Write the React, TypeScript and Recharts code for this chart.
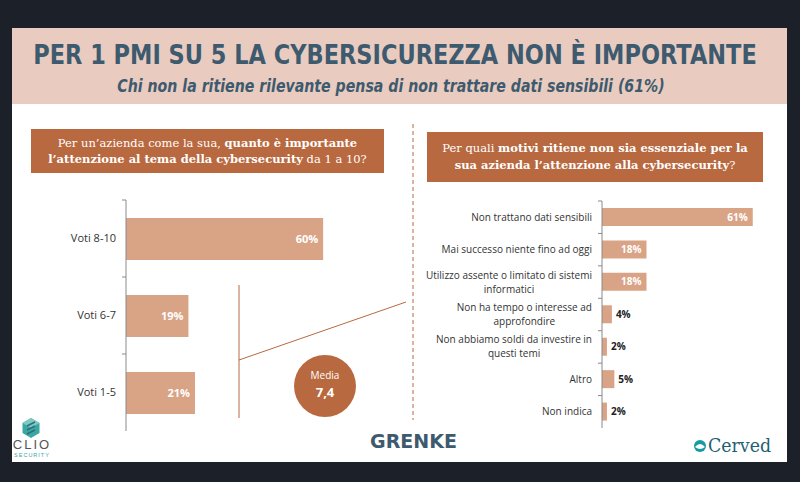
import { Bar, BarChart, LabelList, XAxis, YAxis } from "recharts";

const votes = ["Voti 8-10", "Voti 6-7", "Voti 1-5"];
const voteShares = [60, 19, 21];

const reasons = [
  "Non trattano dati sensibili",
  "Mai successo niente fino ad oggi",
  "Utilizzo assente o limitato di sistemi\ninformatici",
  "Non ha tempo o interesse ad\napprofondire",
  "Non abbiamo soldi da investire in\nquesti temi",
  "Altro",
  "Non indica"
];
const reasonShares = [61, 18, 18, 4, 2, 5, 2];

const BAR = "#d9a386";
const BROWN = "#b8693f";
const SLATE = "#3e5a6f";
const LABEL_FONT = "'Open Sans', 'Noto Sans', sans-serif";
const HEAD_FONT = "'DejaVu Sans', sans-serif";

const voteData = votes.map((name, i) => ({ name, value: voteShares[i] }));
const reasonData = reasons.map((name, i) => ({ name, value: reasonShares[i] }));

const ctx = typeof document !== "undefined" ? document.createElement("canvas").getContext("2d") : null;
function textWidth(text: string, font: string) {
  if (!ctx) return text.length * 5;
  ctx.font = font;
  return ctx.measureText(text).width;
}

// squeezes a heading horizontally to the width it has in the picture
function FitText({ text, cx, y, width, size, weight, italic }: any) {
  const font = `${italic ? "italic " : ""}${weight} ${size}px ${HEAD_FONT}`;
  const sx = width / textWidth(text, font);
  return (
    <text
      transform={`translate(${cx} ${y}) scale(${sx} 1)`}
      textAnchor="middle"
      fontFamily={HEAD_FONT}
      fontWeight={weight}
      fontStyle={italic ? "italic" : "normal"}
      fontSize={size}
      fill={SLATE}
    >
      {text}
    </text>
  );
}

// category label, lines centred on each other, block right-aligned to the axis
function CategoryTick({ x, y, payload, fontSize, lineHeight }: any) {
  const lines: string[] = String(payload.value).split("\n");
  const off = payload.offset ?? 0;
  const w = Math.max(...lines.map((l) => textWidth(l, `${fontSize}px ${LABEL_FONT}`)));
  const cx = x - 10 - w / 2;
  const y0 = y - ((lines.length - 1) * lineHeight) / 2;
  return (
    <g>
      <line x1={x - 4} x2={x} y1={y - off} y2={y - off} stroke="#8a8a8a" />
      <text textAnchor="middle" fontFamily={LABEL_FONT} fontSize={fontSize} fill="#333">
        {lines.map((l, i) => (
          <tspan key={i} x={cx} y={y0 + i * lineHeight} dy="0.35em">
            {l}
          </tspan>
        ))}
      </text>
    </g>
  );
}

function ValueLabel({ x, y, width, height, value, fontSize, threshold }: any) {
  const inside = value >= threshold;
  return (
    <text
      x={inside ? x + width - 5 : x + width + 4}
      y={y + height / 2}
      dy="0.35em"
      textAnchor={inside ? "end" : "start"}
      fontFamily={LABEL_FONT}
      fontWeight={700}
      fontSize={fontSize}
      fill={inside ? "#fff" : "#222"}
    >
      {value}%
    </text>
  );
}

function Logos() {
  return (
    <g>
      <g transform="translate(31 428)">
        <polygon points="0,-10 8.5,-5 8.5,5 0,10 -8.5,5 -8.5,-5" fill="#3aa7a3" />
        <polygon points="0,-10 8.5,-5 0,0 -8.5,-5" fill="#7fc9c2" />
        <path d="M-4,-2 L4,-6 M-4,2 L4,-2 M-4,6 L4,2" stroke="#2f6f7c" strokeWidth={1.6} />
      </g>
      <text x={32} y={449} textAnchor="middle" fontFamily="'Liberation Sans', sans-serif" fontSize={13} fill="#555" letterSpacing={2}>
        CLIO
      </text>
      <text x={32} y={457} textAnchor="middle" fontFamily="'Liberation Sans', sans-serif" fontSize={5.5} fill="#3aa7a3" letterSpacing={1}>
        SECURITY
      </text>
      <text x={370} y={448} textLength={87} lengthAdjust="spacingAndGlyphs" fontFamily="'DejaVu Sans', sans-serif" fontWeight={700} fontSize={19} fill={SLATE}>
        GRENKE
      </text>
      <circle cx={700} cy={446} r={6} fill="#139aa3" />
      <path d="M695,447 Q700,441 705,447 Q700,451 695,447 Z" fill="#fff" />
      <text x={708} y={452} textLength={63} lengthAdjust="spacingAndGlyphs" fontFamily="'DejaVu Serif', serif" fontSize={18} fill="#1f5f73">
        Cerved
      </text>
    </g>
  );
}

export default function App() {
  return (
    <div style={{ position: "absolute", left: 0, top: 0, width: 800, height: 482, background: "#1b2029", overflow: "hidden" }}>
      <div style={{ position: "absolute", left: 12, top: 28, width: 775, height: 434, background: "#fff" }} />
      <svg width={800} height={482} style={{ position: "absolute", left: 0, top: 0 }}>
        <rect x={12} y={28} width={775} height={76} fill="#e9ccbf" />
        <FitText text="PER 1 PMI SU 5 LA CYBERSICUREZZA NON È IMPORTANTE" cx={395} y={64} width={724} size={27} weight={700} />
        <FitText text="Chi non la ritiene rilevante pensa di non trattare dati sensibili (61%)" cx={391} y={92} width={548} size={17} weight={700} italic />
        <line x1={413} x2={413} y1={124} y2={420} stroke={BROWN} strokeDasharray="4 3" />
        <line x1={239} x2={239} y1={285} y2={418} stroke={BROWN} />
        <line x1={239} x2={406} y1={360} y2={302} stroke={BROWN} />
        <circle cx={325} cy={386} r={31} fill={BROWN} />
        <text x={325} y={379} textAnchor="middle" fontFamily={LABEL_FONT} fontSize={10} fill="#fff">
          Media
        </text>
        <text x={325} y={397} textAnchor="middle" fontFamily={LABEL_FONT} fontWeight={700} fontSize={13} fill="#fff">
          7,4
        </text>
        <Logos />
      </svg>

      <div style={{ position: "absolute", left: 31, top: 129, width: 353, height: 44, background: BROWN, color: "#fff", fontFamily: "'DejaVu Serif', serif", fontSize: 11.5, lineHeight: "16px", textAlign: "center", display: "flex", alignItems: "center", justifyContent: "center" }}>
        <div>
          Per un’azienda come la sua, <b>quanto è importante</b>
          <br />
          <b>l’attenzione al tema della cybersecurity</b> da 1 a 10?
        </div>
      </div>
      <div style={{ position: "absolute", left: 427, top: 132, width: 336, height: 50, background: BROWN, color: "#fff", fontFamily: "'DejaVu Serif', serif", fontSize: 11.5, lineHeight: "17px", textAlign: "center", display: "flex", alignItems: "center", justifyContent: "center" }}>
        <div>
          Per quali <b>motivi ritiene non sia essenziale per la</b>
          <br />
          <b>sua azienda l’attenzione alla cybersecurity</b>?
        </div>
      </div>

      <div style={{ position: "absolute", left: 20, top: 190 }}>
        <BarChart width={350} height={250} data={voteData} layout="vertical" margin={{ top: 10, right: 14, bottom: 9, left: 0 }}>
          <XAxis type="number" domain={[0, 70]} hide />
          <YAxis
            type="category"
            dataKey="name"
            width={106}
            interval={0}
            tickSize={0}
            tickMargin={0}
            tickLine={false}
            axisLine={{ stroke: "#8a8a8a" }}
            tick={<CategoryTick fontSize={11} lineHeight={13} />}
          />
          <Bar dataKey="value" fill={BAR} barSize={42} isAnimationActive={false}>
            <LabelList dataKey="value" content={<ValueLabel fontSize={11} threshold={10} />} />
          </Bar>
        </BarChart>
      </div>

      <div style={{ position: "absolute", left: 420, top: 190 }}>
        <BarChart width={365} height={250} data={reasonData} layout="vertical" margin={{ top: 11, right: 10, bottom: 12, left: 0 }}>
          <XAxis type="number" domain={[0, 70]} hide />
          <YAxis
            type="category"
            dataKey="name"
            width={182}
            interval={0}
            tickSize={0}
            tickMargin={0}
            tickLine={false}
            axisLine={{ stroke: "#8a8a8a" }}
            tick={<CategoryTick fontSize={10} lineHeight={14} />}
          />
          <Bar dataKey="value" fill={BAR} barSize={18} isAnimationActive={false}>
            <LabelList dataKey="value" content={<ValueLabel fontSize={10} threshold={10} />} />
          </Bar>
        </BarChart>
      </div>
    </div>
  );
}
